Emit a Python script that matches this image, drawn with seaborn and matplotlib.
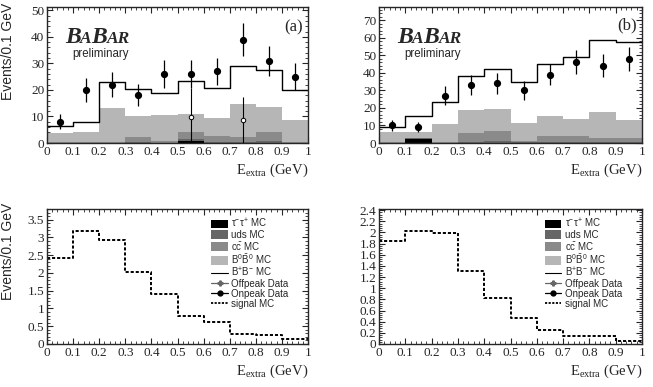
import numpy as np
import pandas as pd
import seaborn as sns
import matplotlib
matplotlib.use("Agg")
import matplotlib.pyplot as plt
import matplotlib.transforms as mtrans
from matplotlib.patches import Patch
from matplotlib.lines import Line2D
from matplotlib.ticker import MultipleLocator, FuncFormatter

# ---------------- data ----------------
bin_edges = [0.0, 0.1, 0.2, 0.3, 0.4, 0.5, 0.6, 0.7, 0.8, 0.9, 1.0]

# panel (a)
a_tautau = [0, 0, 0, 0, 0, 0.9, 0, 0, 0, 0]
a_uds    = [0, 0, 0, 0.4, 0, 0.6, 0.5, 0.4, 0.6, 0]
a_ccbar  = [0.3, 0.3, 0.3, 1.7, 0.8, 2.5, 2.2, 2.0, 3.6, 0.3]
a_b0b0   = [3.5, 3.7, 12.8, 7.9, 9.8, 7.0, 6.9, 12.2, 9.2, 8.2]
a_bpbm   = [2.5, 4.1, 9.8, 10.3, 8.4, 12.4, 11.3, 14.5, 14.0, 11.6]
a_onpeak     = [8, 20, 22, 18, 26, 26, 27, 39, 31, 25]
a_onpeak_err = [2.8, 4.5, 4.7, 4.2, 5.1, 5.1, 5.2, 6.2, 5.6, 5.0]
a_offpeak     = [0, 0, 0, 0, 0, 9.8, 0, 8.8, 0, 0]
a_offpeak_err = [0, 0, 0, 0, 0, 11.0, 0, 8.7, 0, 0]

# panel (b)
b_tautau = [0, 2.5, 0, 0, 0, 0, 0, 0, 0, 0]
b_uds    = [0, 0.2, 0, 0.8, 1.0, 0.3, 0.6, 0.6, 0.4, 0.4]
b_ccbar  = [0.8, 0, 0.8, 5.1, 5.9, 1.0, 3.6, 3.6, 2.3, 2.3]
b_b0b0   = [5.3, 3.4, 10.0, 12.7, 12.3, 10.3, 11.0, 9.7, 14.8, 10.6]
b_bpbm   = [3.0, 9.1, 12.4, 19.4, 23.0, 23.0, 30.0, 35.0, 41.1, 44.3]
b_onpeak     = [10, 9, 27, 33, 34, 30, 39, 46, 44, 48]
b_onpeak_err = [3.2, 3.0, 5.2, 5.7, 5.8, 5.5, 6.2, 6.8, 6.6, 6.9]

# signal MC
c_signal = [2.42, 3.17, 2.92, 2.03, 1.42, 0.80, 0.61, 0.28, 0.24, 0.15]
d_signal = [1.84, 2.02, 1.99, 1.31, 0.83, 0.47, 0.25, 0.14, 0.14, 0.05]

legend_labels = [r"$\mathsf{\tau^{-}\tau^{+}}$ MC", "uds MC", r"$\mathsf{c\bar{c}}$ MC",
                 r"$\mathsf{B^{0}\bar{B}^{0}}$ MC", r"$\mathsf{B^{+}B^{-}}$ MC",
                 "Offpeak Data", "Onpeak Data", "signal MC"]

# ---------------- style ----------------
sns.set_style("ticks")
plt.rcParams["font.family"] = ["Liberation Serif", "DejaVu Serif"]
plt.rcParams["mathtext.fontset"] = "custom"
plt.rcParams["mathtext.rm"] = "Liberation Serif"
plt.rcParams["mathtext.it"] = "Liberation Serif:italic"
plt.rcParams["mathtext.bf"] = "Liberation Serif:bold"
plt.rcParams["mathtext.sf"] = "Liberation Sans"
plt.rcParams["axes.linewidth"] = 1.0

COL_TT, COL_UDS, COL_CC, COL_B0 = "#000000", "#666666", "#8a8a8a", "#b6b6b6"

W, H = 653, 387
fig = plt.figure(figsize=(W / 100, H / 100), dpi=100)

def px_axes(x0, y0, x1, y1):
    return fig.add_axes([x0 / W, 1 - y1 / H, (x1 - x0) / W, (y1 - y0) / H])

axA = px_axes(47, 7, 308, 143)
axB = px_axes(379, 7, 642, 143)
axC = px_axes(47, 209, 308, 344)
axD = px_axes(379, 209, 642, 344)

edges = np.array(bin_edges)
centers = (edges[:-1] + edges[1:]) / 2

fmt = FuncFormatter(lambda v, p: "%g" % round(v, 4))

def hist(ax, vals, **kw):
    df = pd.DataFrame({"x": centers, "w": np.asarray(vals, dtype=float)})
    sns.histplot(data=df, x="x", weights="w", bins=list(bin_edges), element="step",
                 ax=ax, **kw)

def style_axes(ax, ymax, ymaj, ymin):
    ax.set_xlim(0, 1)
    ax.set_ylim(0, ymax)
    ax.xaxis.set_major_locator(MultipleLocator(0.1))
    ax.xaxis.set_minor_locator(MultipleLocator(0.02))
    ax.yaxis.set_major_locator(MultipleLocator(ymaj))
    ax.yaxis.set_minor_locator(MultipleLocator(ymin))
    ax.xaxis.set_major_formatter(fmt)
    ax.yaxis.set_major_formatter(fmt)
    ax.tick_params(which="both", direction="in", top=True, right=True)
    ax.tick_params(which="major", length=4.5, width=0.8, labelsize=9.5, pad=2)
    ax.tick_params(which="minor", length=2.2, width=0.6)
    ax.set_xlabel("")
    ax.set_ylabel("")
    for s in ax.spines.values():
        s.set_linewidth(1.0)
    tr = mtrans.offset_copy(ax.transAxes, fig=fig, x=0, y=-27, units="dots")
    ax.text(1.0, 0, r"E$_{\mathrm{extra}}$ (GeV)", transform=tr, ha="right",
            va="center", fontsize=10.5, family="Liberation Serif")

def stack_panel(ax, tt, uds, cc, b0, bp, on, on_err, off=None, off_err=None):
    comps = [np.array(tt), np.array(uds), np.array(cc), np.array(b0)]
    cums = np.cumsum(comps, axis=0)
    colors = [COL_TT, COL_UDS, COL_CC, COL_B0]
    for lvl, col in reversed(list(zip(cums, colors))):
        hist(ax, lvl, fill=True, color=col, alpha=1, linewidth=0)
    total = cums[-1] + np.array(bp)
    hist(ax, total, fill=False, color="black", linewidth=1.0)
    if off is not None:
        off = np.array(off); off_err = np.array(off_err)
        m = off > 0
        ax.errorbar(centers[m], off[m], yerr=off_err[m], fmt="o", ms=3.2, mfc="white",
                    mec="black", mew=0.7, ecolor="black", elinewidth=0.8, capsize=0, zorder=5)
    ax.errorbar(centers, on, yerr=on_err, fmt="o", ms=4.2, color="black",
                elinewidth=0.9, capsize=0, zorder=6)

stack_panel(axA, a_tautau, a_uds, a_ccbar, a_b0b0, a_bpbm, a_onpeak, a_onpeak_err,
            a_offpeak, a_offpeak_err)
style_axes(axA, 51.25, 10, 2)
stack_panel(axB, b_tautau, b_uds, b_ccbar, b_b0b0, b_bpbm, b_onpeak, b_onpeak_err)
style_axes(axB, 77.5, 10, 2)

for ax, sig, ymax, ymaj, ymin in [(axC, c_signal, 3.8, 0.5, 0.1), (axD, d_signal, 2.42, 0.2, 0.04)]:
    hist(ax, sig, fill=False, color="black", linewidth=1.4, linestyle=(0, (1.6, 1.0)))
    style_axes(ax, ymax, ymaj, ymin)
    handles = [Patch(facecolor=COL_TT, edgecolor="none"),
               Patch(facecolor=COL_UDS, edgecolor="none"),
               Patch(facecolor=COL_CC, edgecolor="none"),
               Patch(facecolor=COL_B0, edgecolor="none"),
               Line2D([], [], color="black", lw=0.8),
               Line2D([], [], color="#666666", lw=0.9, marker="P", ms=3.5),
               Line2D([], [], color="black", lw=0.9, marker="o", ms=3.5),
               Line2D([], [], color="black", lw=1.3, linestyle=(0, (1.2, 0.8)))]
    ax.legend(handles=handles, labels=legend_labels, loc="upper left",
              bbox_to_anchor=(0.63, 0.945), frameon=False,
              prop={"family": "Liberation Sans", "size": 7.0},
              handlelength=1.7, handleheight=0.95, handletextpad=0.35,
              labelspacing=0.0, borderaxespad=0, borderpad=0)

# y-axis labels
for ytop in (3, 203):
    fig.text(0.5 / W, 1 - ytop / H, "Events/0.1 GeV", rotation=90, ha="left", va="top",
             fontsize=10, family="Liberation Sans")

# BABAR logos and panel tags
def babar(ax_left_px):
    x = ax_left_px + 18
    yb = 1 - 43 / H
    pieces = [("B", 17), ("A", 12.5), ("B", 17), ("AR", 12.5)]
    widths = [15.3, 11.4, 15.3, 23.0]
    for (t, s), w in zip(pieces, widths):
        fig.text(x / W, yb, t, fontsize=s, family="Liberation Serif",
                 weight="bold", style="italic", va="baseline", ha="left")
        x += w
    fig.text((ax_left_px + 25) / W, 1 - 57 / H, "preliminary", fontsize=8.3,
             family="Liberation Sans", va="baseline", ha="left")

babar(47)
babar(379)
fig.text(294 / W, 1 - 27 / H, "(a)", fontsize=12, family="Liberation Serif",
         ha="center", va="center")
fig.text(627 / W, 1 - 25 / H, "(b)", fontsize=12, family="Liberation Serif",
         ha="center", va="center")

fig.savefig("out.png", dpi=100)
